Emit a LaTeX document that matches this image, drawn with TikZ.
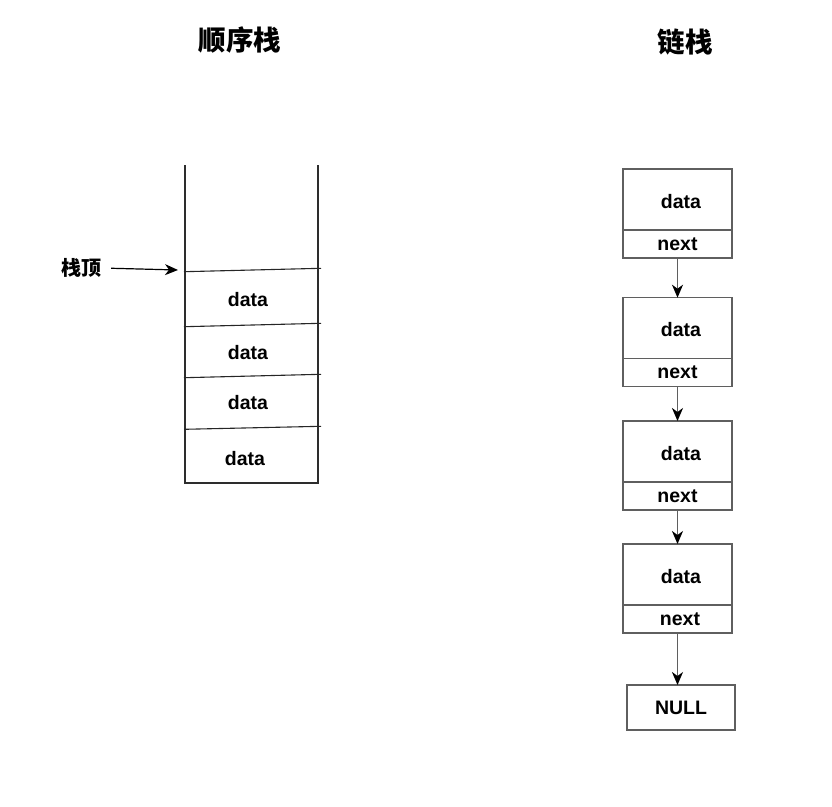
\documentclass[tikz,border=0pt]{standalone}
\usepackage{fontspec}
\setmainfont{Liberation Sans}
\newfontfamily\cjk{Noto Sans CJK SC}
\usetikzlibrary{arrows.meta}
\definecolor{boxgray}{RGB}{95,95,95}
\definecolor{wallgray}{RGB}{45,45,45}
\begin{document}
\begin{tikzpicture}[x=1pt,y=-1pt,
  txt/.style={font=\fontsize{19.5}{19.5}\selectfont\bfseries, inner sep=0pt},
  title/.style={font=\cjk\fontsize{27.5}{27.5}\selectfont\bfseries, inner sep=0pt},
  cell/.style={draw=boxgray, line width=1.5pt, minimum width=109pt, inner sep=0pt, outer sep=0pt, anchor=north west, font=\fontsize{19.5}{19.5}\selectfont\bfseries},
  datacell/.style={cell, minimum height=61pt, text depth=0pt, text height=17pt},
  nextcell/.style={cell, minimum height=28pt},
  wall/.style={draw=wallgray, line width=2.2pt},
  divider/.style={draw=black!85, line width=1.1pt},
  link/.style={draw=boxgray, line width=1.6pt, -{Stealth[length=13pt,width=11pt,inset=4pt,color=black]}},
  ptr/.style={draw=black, line width=1.2pt, -{Stealth[length=13pt,width=11pt,inset=4pt]}}
]
\useasboundingbox (0,0) rectangle (832,806);

% titles
\node[title] (t1) at (240,40) {顺序栈};
\node[title] (t2) at (685,42) {链栈};

% sequential stack
\draw[wall] (185,165) -- (185,483) -- (318,483) -- (318,165);
\draw[divider] (184,271.7) -- (321,268.3);
\draw[divider] (184,326.7) -- (321,323.3);
\draw[divider] (184,377.7) -- (321,374.3);
\draw[divider] (184,429.3) -- (321,426.3);
\node[txt] (s1) at (248,300) {data};
\node[txt] (s2) at (248,353) {data};
\node[txt] (s3) at (248,403) {data};
\node[txt] (s4) at (245,459) {data};
\node[font=\cjk\fontsize{20}{20}\selectfont\bfseries, inner sep=0pt] (top) at (81,268) {栈顶};
\coordinate (topptr) at (178,270);
\draw[ptr, shorten <=10pt] (top.east) -- (topptr);

% linked stack
\node[datacell] (d1) at (623,169) {\hspace{7pt}data};
\node[nextcell] (n1) at (d1.south west) {next};
\node[datacell] (d2) at (623,297.7) {\hspace{7pt}data};
\node[nextcell] (n2) at (d2.south west) {next};
\node[datacell] (d3) at (623,421) {\hspace{7pt}data};
\node[nextcell] (n3) at (d3.south west) {next};
\node[datacell] (d4) at (623,544) {\hspace{7pt}data};
\node[nextcell] (n4) at (d4.south west) {\hspace{5pt}next};
\node[cell, minimum width=108pt, minimum height=45pt] (null) at (627,685) {NULL};

\draw[link] (n1.south) -- (d2.north);
\draw[link] (n2.south) -- (d3.north);
\draw[link] (n3.south) -- (d4.north);
\draw[link] (n4.south) -- (n4.south |- null.north);
\end{tikzpicture}
\end{document}
